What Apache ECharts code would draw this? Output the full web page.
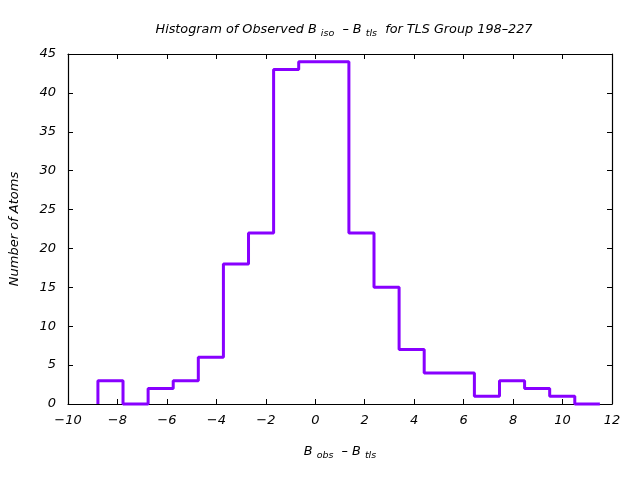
<!DOCTYPE html>
<html>
<head>
<meta charset="utf-8">
<script src="https://cdn.jsdelivr.net/npm/echarts@6/dist/echarts.min.js"></script>
<style>html,body{margin:0;padding:0;background:#fff}#c{width:640px;height:480px}</style>
</head>
<body>
<div id="c"></div>
<script>
// Histogram bins (B_obs - B_tls)
var binStart = -8.79;
var binWidth = 1.015;
var counts = [3, 0, 2, 3, 6, 18, 22, 43, 44, 44, 22, 15, 7, 4, 4, 1, 3, 2, 1, 0];
var xTicks = { min: -10, max: 12, interval: 2 };
var yTicks = { min: 0, max: 45, interval: 5 };

var stepData = [[binStart, 0]];
for (var i = 0; i < counts.length; i++) {
  stepData.push([binStart + i * binWidth, counts[i]]);
}
stepData.push([binStart + counts.length * binWidth, counts[counts.length - 1]]);

var FONT = 'DejaVu Sans';
var minusFmt = function (v) { return String(v).replace('-', '\u2212'); };
var chart = echarts.init(document.getElementById('c'));
function axisCommon() {
  return {
    axisLine: { show: true, onZero: false, lineStyle: { color: '#000', width: 1.2 } },
    axisTick: { show: true, inside: true, length: 5, lineStyle: { color: '#000', width: 1 } },
    splitLine: { show: false }
  };
}
var richStyles = {
  i: { fontFamily: FONT, fontStyle: 'italic', fontWeight: 'normal', fontSize: 12.8, color: '#000', lineHeight: 16, verticalAlign: 'bottom' },
  s: { fontFamily: FONT, fontStyle: 'italic', fontWeight: 'normal', fontSize: 9.5, color: '#000', lineHeight: 16, verticalAlign: 'bottom', padding: [0, 0, -3, 0] }
};
chart.setOption({
  animation: false,
  backgroundColor: '#fff',
  title: {
    text: '{i|Histogram of Observed B }{s|iso}{i|  \u2013 B }{s|tls}{i|  for TLS Group 198\u2013227}',
    left: 339, top: 15, textAlign: 'center',
    textStyle: { fontWeight: 'normal', rich: richStyles }
  },
  grid: { left: 67, right: 28, top: 54, bottom: 76, containLabel: false },
  xAxis: [
    Object.assign(axisCommon(), {
      type: 'value', min: xTicks.min, max: xTicks.max, interval: xTicks.interval,
      position: 'bottom',
      axisLabel: { color: '#000', fontFamily: FONT, fontStyle: 'italic', fontSize: 13, margin: 10, formatter: minusFmt },
      name: '{i|B }{s|obs}{i|  \u2013 B }{s|tls}',
      nameLocation: 'middle', nameGap: 38,
      nameTextStyle: { rich: richStyles }
    }),
    Object.assign(axisCommon(), {
      type: 'value', min: xTicks.min, max: xTicks.max, interval: xTicks.interval,
      position: 'top', axisLabel: { show: false }
    })
  ],
  yAxis: [
    Object.assign(axisCommon(), {
      type: 'value', min: yTicks.min, max: yTicks.max, interval: yTicks.interval,
      position: 'left',
      axisLabel: { color: '#000', fontFamily: FONT, fontStyle: 'italic', fontSize: 13, margin: 12 },
      name: 'Number of Atoms', nameLocation: 'middle', nameGap: 47,
      nameTextStyle: { fontFamily: FONT, fontStyle: 'italic', fontSize: 13, color: '#000' }
    }),
    Object.assign(axisCommon(), {
      type: 'value', min: yTicks.min, max: yTicks.max, interval: yTicks.interval,
      position: 'right', axisLabel: { show: false }
    })
  ],
  series: [{
    type: 'line', step: 'end', data: stepData, symbol: 'none',
    xAxisIndex: 0, yAxisIndex: 0, clip: false,
    lineStyle: { color: '#8800ff', width: 3 }, z: 3
  }]
});
</script>
</body>
</html>
